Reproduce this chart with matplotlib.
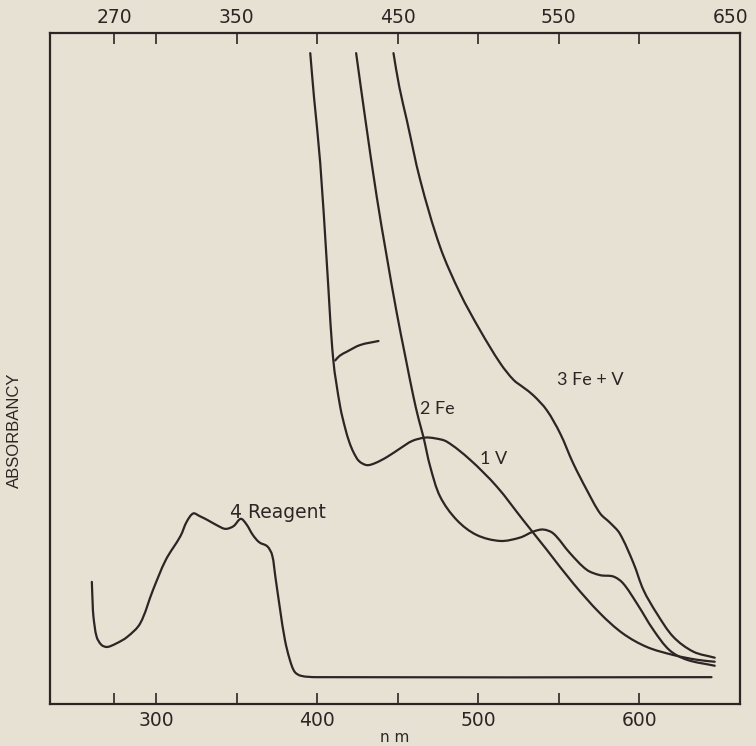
import matplotlib
matplotlib.use("Agg")
import matplotlib.pyplot as plt
import matplotlib.transforms as mtransforms
import numpy as np
from matplotlib.path import Path
from matplotlib.patches import PathPatch

# ---- data (wavelength nm, relative absorbancy) ----
v_nm = [395.7, 398, 401.9, 406, 410, 414.3, 417.4, 420, 422.6, 426, 430.9, 436, 443.3,
        451.6, 459, 467, 473, 480.5, 495, 511.6, 528, 542.6, 559, 575.8, 590, 604.8,
        621.3, 635.8, 647]
v_abs = [0.970, 0.905, 0.806, 0.657, 0.513, 0.443, 0.411, 0.39, 0.375, 0.362, 0.356, 0.359,
         0.368, 0.381, 0.392, 0.397, 0.396, 0.391, 0.364, 0.324, 0.274, 0.230, 0.180, 0.135,
         0.105, 0.085, 0.073, 0.066, 0.063]

fe_nm = [424.2, 430, 437, 443, 449.5, 455, 459.8, 463, 466, 470.2, 476.4, 486.8, 499, 513.7,
         526, 534.3, 540.5, 546.8, 557, 567.5, 575.8, 584, 590, 598.6, 609, 619, 629.6, 647]
fe_abs = [0.970, 0.87, 0.756, 0.67, 0.582, 0.515, 0.458, 0.425, 0.398, 0.354, 0.309, 0.274,
          0.252, 0.243, 0.248, 0.257, 0.260, 0.254, 0.225, 0.200, 0.192, 0.190, 0.180, 0.150,
          0.110, 0.080, 0.066, 0.057]

fev_nm = [447.4, 451, 455.7, 464, 476.4, 488.8, 501.2, 513.7, 522, 528, 534.3, 542.6, 551,
          559, 567.5, 575.8, 582, 588, 596.5, 602.7, 611, 621.3, 633.7, 647]
fev_abs = [0.970, 0.92, 0.870, 0.781, 0.681, 0.612, 0.557, 0.508, 0.483, 0.472, 0.460, 0.438,
           0.403, 0.359, 0.319, 0.284, 0.270, 0.254, 0.210, 0.170, 0.135, 0.100, 0.078, 0.069]

reag_nm = [260, 260.5, 261, 263, 266, 269.5, 275, 282, 290, 298, 306, 315, 319, 323, 327,
           332, 338, 343, 348, 352.5, 356, 360, 364, 369, 372, 374, 377, 380, 383, 386, 390,
           400, 645]
reag_abs = [0.182, 0.15, 0.13, 0.10, 0.088, 0.085, 0.09, 0.10, 0.12, 0.17, 0.215, 0.25, 0.272,
            0.284, 0.28, 0.274, 0.266, 0.261, 0.265, 0.276, 0.268, 0.252, 0.241, 0.235, 0.222,
            0.19, 0.14, 0.095, 0.066, 0.048, 0.042, 0.040, 0.040]

arc_nm = [411.2, 414, 418.4, 426.7, 438.1]
arc_abs = [0.512, 0.519, 0.525, 0.535, 0.541]

bottom_ticks = [274, 300, 350, 400, 450, 500, 550, 600]
bottom_labels = ["", "300", "", "400", "", "500", "", "600"]
top_ticks = [274, 300, 350, 400, 450, 500, 550, 600]
top_labels = ["270", "", "350", "", "450", "", "550", ""]
top_end_label = "650"
top_end_pos = 657

BG = "#e6e1d3"
INK = "#2b2624"
XLIM = (234, 662.7)
YLIM = (0, 1)

plt.rcParams['font.family'] = ['DejaVu Sans']

fig = plt.figure(figsize=(7.56, 7.46), dpi=100, facecolor=BG)
ax = fig.add_axes([50/756, 42/746, 690/756, 671/746], facecolor=BG)
ax.set_xlim(*XLIM)
ax.set_ylim(*YLIM)


def smooth_path(xs, ys):
    """Cubic Bezier path through the read points (chord-length tangents)."""
    X = np.asarray(xs, float)
    Y = np.asarray(ys, float)
    sx = 690.0 / (XLIM[1] - XLIM[0])
    sy = 671.0 / (YLIM[1] - YLIM[0])
    P = np.column_stack([X * sx, Y * sy])
    d = np.hypot(*np.diff(P, axis=0).T)
    t = np.concatenate([[0], np.cumsum(d)])
    n = len(P)
    M = np.zeros_like(P)
    for i in range(n):
        if i == 0:
            M[i] = (P[1] - P[0]) / (t[1] - t[0])
        elif i == n - 1:
            M[i] = (P[-1] - P[-2]) / (t[-1] - t[-2])
        else:
            M[i] = (P[i + 1] - P[i - 1]) / (t[i + 1] - t[i - 1])
    verts = [P[0]]
    codes = [Path.MOVETO]
    for i in range(n - 1):
        h = t[i + 1] - t[i]
        verts += [P[i] + M[i] * h / 3, P[i + 1] - M[i + 1] * h / 3, P[i + 1]]
        codes += [Path.CURVE4] * 3
    V = np.array(verts)
    V[:, 0] /= sx
    V[:, 1] /= sy
    return Path(V, codes)


for xs, ys in [(v_nm, v_abs), (fe_nm, fe_abs), (fev_nm, fev_abs), (reag_nm, reag_abs),
               (arc_nm, arc_abs)]:
    ax.add_patch(PathPatch(smooth_path(xs, ys), fill=False, edgecolor=INK, lw=1.6,
                           joinstyle='round', capstyle='round', transform=ax.transData))

for s in ax.spines.values():
    s.set_color(INK)
    s.set_linewidth(1.6)

ax.set_xticks(bottom_ticks)
ax.set_xticklabels(bottom_labels)
ax.tick_params(axis='x', direction='in', length=8, width=1.2, colors=INK,
               labelsize=13.5, pad=5)
ax.set_yticks([])

top = ax.twiny()
top.set_xlim(ax.get_xlim())
top.set_xticks(top_ticks)
top.set_xticklabels(top_labels)
top.tick_params(axis='x', direction='in', length=8, width=1.2, colors=INK,
                labelsize=13.5, pad=4)
for s in top.spines.values():
    s.set_visible(False)
end_tr = mtransforms.offset_copy(top.get_xaxis_transform(), fig=fig, x=0, y=4, units='points')
top.text(top_end_pos, 1.0, top_end_label, transform=end_tr, ha='center',
         va='bottom', fontsize=13.5, color=INK)

fig.text(395/756, 1 - 737/746, "n m", ha='center', va='center', fontsize=11, color=INK)
fig.text(14/756, 1 - 430/746, "ABSORBANCY", rotation=90, ha='center', va='center',
         fontsize=12, color=INK, family=['Liberation Sans', 'DejaVu Sans'])

# curve labels
lab_kw = dict(color=INK, va='center', ha='left')
fig.text(230/756, 1 - 512/746, "4 Reagent", fontsize=13.5, **lab_kw)
fig.text(420/756, 1 - 409/746, "2 Fe", fontsize=13, family=['Lato', 'DejaVu Sans'], **lab_kw)
fig.text(480/756, 1 - 459/746, "1 V", fontsize=13, family=['Lato', 'DejaVu Sans'], **lab_kw)
fig.text(557/756, 1 - 380/746, "3 Fe + V", fontsize=13, family=['Lato', 'DejaVu Sans'], **lab_kw)

fig.savefig("out.png", dpi=100, facecolor=BG)
